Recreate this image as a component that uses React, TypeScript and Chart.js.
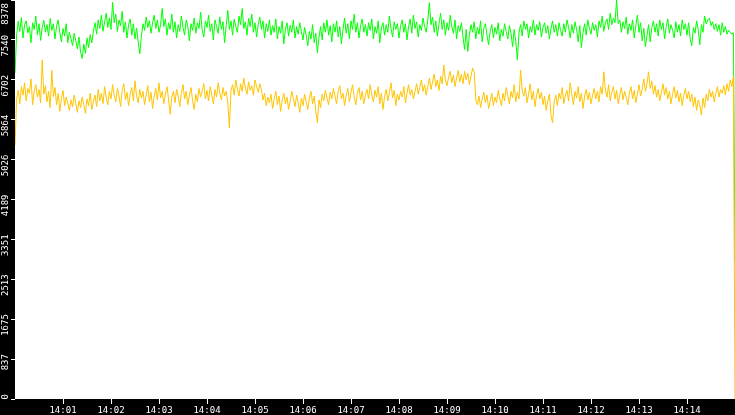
import React, { useEffect, useRef } from 'react';
import { Chart, registerables, Plugin } from 'chart.js';

Chart.register(...registerables);

// === Data (one sample every 2 s, from 14:00:00 to 14:15:00) ===
const SAMPLE_STEP_SECONDS = 2;
const SERIES_COLORS = ['#ffc400', '#00ff00'];

const GREEN_VALUES = [
  6850, 7640, 7930, 7720, 8010, 7580, 7860, 7940, 7690, 7820, 7480, 7900, 7760, 8040, 7650, 7880, 7530, 7800, 7950, 7700,
  7860, 7620, 7990, 7740, 7880, 7560, 7830, 7960, 7700, 7500, 7780, 7620, 7880, 7480, 7700, 7560, 7420, 7680, 7520, 7350,
  7600, 7280, 7150, 7450, 7260, 7580, 7380, 7650, 7480, 7720, 7900, 7660, 7960, 7780, 8060, 7720, 7920, 8100, 7800, 8000,
  7760, 8330, 7900, 8080, 7720, 7960, 7840, 8140, 7700, 7920, 7580, 7860, 7980, 7640, 7880, 7560, 7790, 7500, 7250, 7620,
  7880, 7740, 8020, 7800, 7940, 7680, 7900, 8060, 7780, 7960, 7700, 7860, 8200, 7820, 7980, 7640, 7900, 7760, 8080, 7700,
  7920, 7580, 7860, 7720, 8040, 7800, 7640, 7960, 7820, 7520, 7880, 7740, 8000, 7680, 7900, 7780, 8120, 7740, 7600, 7940,
  7800, 8060, 7720, 7880, 7540, 7960, 7820, 7680, 8020, 7760, 7920, 7480, 7840, 8160, 7760, 7940, 7640, 7980, 7820, 7700,
  8040, 7860, 8200, 7780, 7920, 7640, 7990, 7820, 8080, 7700, 7900, 7600, 7860, 8020, 7760, 7940, 7580, 7880, 7720, 7960,
  7640, 7840, 7700, 7980, 7560, 7820, 7680, 7940, 7460, 7760, 7900, 7620, 7850, 7700, 7960, 7580, 7820, 7660, 7900, 7720,
  7540, 7800, 7640, 7420, 7720, 7560, 7860, 7480, 7680, 7270, 7600, 7820, 7540, 7900, 7700, 7960, 7640, 7840, 7500, 7880,
  7700, 7940, 7600, 7820, 7460, 7760, 8000, 7680, 7880, 7560, 7940, 7760, 8080, 7700, 7900, 7580, 7840, 7980, 7700, 7860,
  7620, 7900, 7740, 7980, 7560, 7820, 7680, 7940, 7480, 7800, 7900, 7640, 7860, 7700, 8040, 7780, 7600, 7920, 7760, 7880,
  7580, 7840, 7960, 7700, 7880, 7540, 7820, 7980, 7680, 8060, 7780, 7920, 7600, 7860, 7740, 8000, 7820, 7700, 7960, 8320,
  7860, 8020, 7700, 7940, 7620, 7880, 8100, 7760, 7960, 7640, 7900, 7740, 8060, 7820, 7680, 7960, 7560, 7840, 7720, 7900,
  7600, 7340, 7760, 7300, 7640, 7860, 7700, 7920, 7560, 7800, 7660, 7940, 7500, 7780, 7880, 7640, 7440, 7720, 7860, 7580,
  7800, 7660, 7900, 7520, 7760, 7620, 7880, 7720, 7560, 7840, 7680, 7400, 7760, 7500, 7120, 7700, 7860, 7620, 7940, 7760,
  7880, 7580, 7820, 7700, 7960, 7640, 7860, 7740, 7920, 7600, 7800, 7900, 7680, 7840, 7560, 7780, 7940, 7700, 7860, 7620,
  7900, 7740, 7620, 7880, 7700, 7960, 7800, 7580, 7860, 7680, 7920, 7760, 7500, 7840, 7380, 7700, 7880, 7640, 7960, 7780,
  7660, 7900, 7740, 7860, 7600, 7940, 7800, 8040, 7720, 7900, 7980, 7760, 8100, 7860, 8000, 7900, 8378, 7880, 7960, 7700,
  7920, 7780, 8020, 7660, 7880, 7740, 7960, 7580, 7840, 8060, 7700, 7900, 7520, 7780, 7400, 7640, 7860, 7500, 7800, 7940,
  7700, 7880, 7620, 7960, 7760, 7900, 7560, 7820, 7980, 7680, 7860, 7740, 7580, 7920, 7700, 7860, 7620, 7960, 7760, 7880,
  7640, 7900, 7560, 7420, 7800, 7680, 7940, 7760, 7440, 7860, 7700, 8040, 7880, 7960, 8000, 7840, 7920, 7760, 7880, 7720,
  7860, 7640, 7900, 7700, 7820, 7660, 7740, 7700, 7660, 7690, 2900,
];

const GOLD_VALUES = [
  5330, 6300, 6480, 6200, 6560, 6380, 6640, 6260, 6520, 6420, 6720, 6180, 6460, 6600, 6340, 6500, 6220, 7120, 6400, 6580,
  6240, 6460, 6120, 6900, 6350, 6540, 6180, 6420, 6040, 6300, 6480, 6160, 6340, 6220, 6060, 6280, 6140, 6380, 6200, 6020,
  6260, 6120, 6340, 6180, 6000, 6300, 6160, 6420, 6080, 6250, 6380, 6140, 6500, 6260, 6420, 6200, 6560, 6340, 6180, 6460,
  6300, 6600, 6380, 6240, 6520, 6360, 6140, 6480, 6620, 6280, 6440, 6160, 6400, 6540, 6260, 6680, 6360, 6220, 6500, 6320,
  6460, 6180, 6380, 6580, 6240, 6440, 6100, 6360, 6520, 6280, 6640, 6320, 6460, 6200, 6400, 6560, 6280, 5980, 6340, 6460,
  6220, 6500, 6360, 6140, 6420, 6600, 6300, 6460, 6180, 6380, 6540, 6260, 6080, 6400, 6240, 6520, 6340, 6460, 6620, 6300,
  6480, 6260, 6560, 6380, 6200, 6500, 6340, 6640, 6420, 6280, 6540, 6360, 6460, 6220, 5690, 6480, 6600, 6380, 6700, 6500,
  6360, 6620, 6460, 6740, 6520, 6400, 6660, 6480, 6580, 6380, 6700, 6560, 6440, 6620, 6500, 6280, 6420, 6160, 6340, 6220,
  6400, 6100, 6300, 6460, 6180, 6360, 6040, 6280, 6420, 6200, 6340, 6080, 6260, 6460, 6300, 6140, 6380, 6220, 6020, 6320,
  6160, 6400, 6240, 6080, 6320, 6460, 6200, 6360, 6040, 5800, 6280, 6120, 6400, 6260, 6480, 6320, 6180, 6440, 6300, 6520,
  6360, 6200, 6460, 6580, 6300, 6420, 6160, 6380, 6520, 6240, 6440, 6600, 6340, 6180, 6420, 6540, 6280, 6460, 6200, 6380,
  6500, 6300, 6600, 6380, 6240, 6480, 6340, 6560, 6200, 6420, 6080, 6360, 6500, 6260, 6440, 6640, 6320, 6480, 6160, 6400,
  6280, 6460, 6340, 6560, 6220, 6420, 6600, 6380, 6500, 6300, 6460, 6620, 6400, 6540, 6700, 6460, 6600, 6380, 6560, 6740,
  6500, 6660, 6820, 6560, 6700, 6480, 6780, 6620, 7010, 6700, 6580, 6760, 6880, 6640, 6800, 6560, 6740, 6900, 6660, 6820,
  6620, 6880, 6700, 6840, 6600, 6780, 6950, 6860, 6280, 6180, 6360, 6120, 6300, 6440, 6220, 6380, 6100, 6260, 6420, 6160,
  6340, 6220, 6480, 6300, 6160, 6420, 6260, 6540, 6380, 6200, 6460, 6320, 6600, 6240, 6440, 6300, 6910, 6480, 6360, 6540,
  6220, 6400, 6620, 6280, 6460, 6140, 6380, 6520, 6300, 6440, 6180, 6360, 6060, 6260, 6400, 5960, 5800, 6240, 6380, 6160,
  6420, 6300, 6540, 6200, 6380, 6480, 6260, 6640, 6400, 6180, 6460, 6320, 6560, 6240, 6420, 6100, 6360, 6500, 6280, 6440,
  6200, 6380, 6520, 6300, 6460, 6240, 6560, 6400, 6870, 6480, 6340, 6600, 6260, 6440, 6560, 6300, 6480, 6200, 6380, 6540,
  6280, 6460, 6340, 6180, 6420, 6560, 6300, 6480, 6220, 6400, 6600, 6360, 6500, 6720, 6460, 6620, 6870, 6520, 6680, 6400,
  6580, 6340, 6500, 6260, 6440, 6620, 6380, 6540, 6300, 6460, 6200, 6400, 6560, 6320, 6480, 6240, 6420, 6160, 6380, 6520,
  6300, 6460, 6240, 6400, 6140, 6340, 6060, 6280, 6180, 5960, 6320, 6120, 6400, 6260, 6500, 6340, 6460, 6240, 6420, 6560,
  6340, 6500, 6420, 6580, 6380, 6620, 6460, 6700, 6560, 6760, 0,
];

// === Axes ===
const X_MIN_SECONDS = 0;
const X_MAX_SECONDS = 900;
const X_TICK_SECONDS = [60, 120, 180, 240, 300, 360, 420, 480, 540, 600, 660, 720, 780, 840];
const X_TICK_LABELS = ['14:01', '14:02', '14:03', '14:04', '14:05', '14:06', '14:07', '14:08', '14:09', '14:10', '14:11', '14:12', '14:13', '14:14'];

const Y_MAX = 8378;
const Y_TICK_VALUES = [0, 837.8, 1675.6, 2513.4, 3351.2, 4189, 5026.8, 5864.6, 6702.4, 7540.2, 8378];
const Y_TICK_LABELS = ['0', '837', '1675', '2513', '3351', '4189', '5026', '5864', '6702', '7540', '8378'];

const toPoints = (values: number[]) =>
  values.map((v, i) => ({ x: i * SAMPLE_STEP_SECONDS, y: v }));

// black frame, white plot area
const backgroundPlugin: Plugin = {
  id: 'frameBackground',
  beforeDraw(chart) {
    const { ctx, chartArea, width, height } = chart;
    ctx.save();
    ctx.fillStyle = '#000000';
    ctx.fillRect(0, 0, width, height);
    ctx.fillStyle = '#ffffff';
    ctx.fillRect(chartArea.left, chartArea.top, chartArea.right - chartArea.left, chartArea.bottom - chartArea.top);
    ctx.restore();
  },
};

// keep the rotated y labels inside the canvas (the top one would hang off the edge)
const labelClampPlugin: Plugin = {
  id: 'yLabelClamp',
  beforeDraw(chart) {
    const scale: any = chart.scales.y;
    if (!scale) return;
    const items = scale.getLabelItems();
    items.forEach((item: any) => {
      const tr = item.options.translation;
      if (tr[1] < 3) tr[1] = 3;
    });
  },
};

// no extra room for overhanging labels: plot runs edge to edge
const noPadding = (scale: any) => {
  scale.paddingTop = 0;
  scale.paddingBottom = 0;
  scale.paddingLeft = 0;
  scale.paddingRight = 0;
};

const tickFont = { family: '"DejaVu Sans Mono", monospace', size: 9, lineHeight: 1 };

const App: React.FC = () => {
  const canvasRef = useRef<HTMLCanvasElement>(null);

  useEffect(() => {
    if (!canvasRef.current) return;

    const chart = new Chart(canvasRef.current, {
      type: 'line',
      data: {
        datasets: [
          {
            data: toPoints(GOLD_VALUES),
            borderColor: SERIES_COLORS[0],
            borderWidth: 1,
            pointRadius: 0,
            tension: 0,
          },
          {
            data: toPoints(GREEN_VALUES),
            borderColor: SERIES_COLORS[1],
            borderWidth: 1,
            pointRadius: 0,
            tension: 0,
          },
        ],
      },
      options: {
        animation: false,
        responsive: true,
        maintainAspectRatio: false,
        layout: { padding: 0 },
        plugins: {
          legend: { display: false },
          tooltip: { enabled: false },
        },
        scales: {
          x: {
            type: 'linear',
            min: X_MIN_SECONDS,
            max: X_MAX_SECONDS,
            afterBuildTicks: (scale) => {
              scale.ticks = X_TICK_SECONDS.map((value) => ({ value }));
            },
            afterFit: (scale) => {
              scale.height = 16;
              noPadding(scale);
            },
            grid: { drawOnChartArea: false, drawTicks: true, tickLength: 5, color: '#ffffff', lineWidth: 1 },
            border: { display: false },
            ticks: {
              color: '#ffffff',
              font: tickFont,
              padding: 2,
              autoSkip: false,
              maxRotation: 0,
              minRotation: 0,
              callback: (_v, index) => X_TICK_LABELS[index],
            },
          },
          y: {
            type: 'linear',
            min: 0,
            max: Y_MAX,
            afterBuildTicks: (scale) => {
              scale.ticks = Y_TICK_VALUES.map((value) => ({ value }));
            },
            afterFit: (scale) => {
              scale.width = 15;
              noPadding(scale);
            },
            grid: { drawOnChartArea: false, drawTicks: true, tickLength: 4, color: '#ffffff', lineWidth: 1 },
            border: { display: false },
            ticks: {
              color: '#ffffff',
              font: tickFont,
              padding: 5,
              minRotation: 90,
              maxRotation: 90,
              labelOffset: -5,
              autoSkip: false,
              callback: (_v, index) => Y_TICK_LABELS[index],
            },
          },
        },
      },
      plugins: [backgroundPlugin, labelClampPlugin],
    });

    return () => {
      chart.destroy();
    };
  }, []);

  return (
    <div style={{ position: 'fixed', left: 0, top: 0, width: 735, height: 415, background: '#000' }}>
      <canvas ref={canvasRef} />
    </div>
  );
};

export default App;
